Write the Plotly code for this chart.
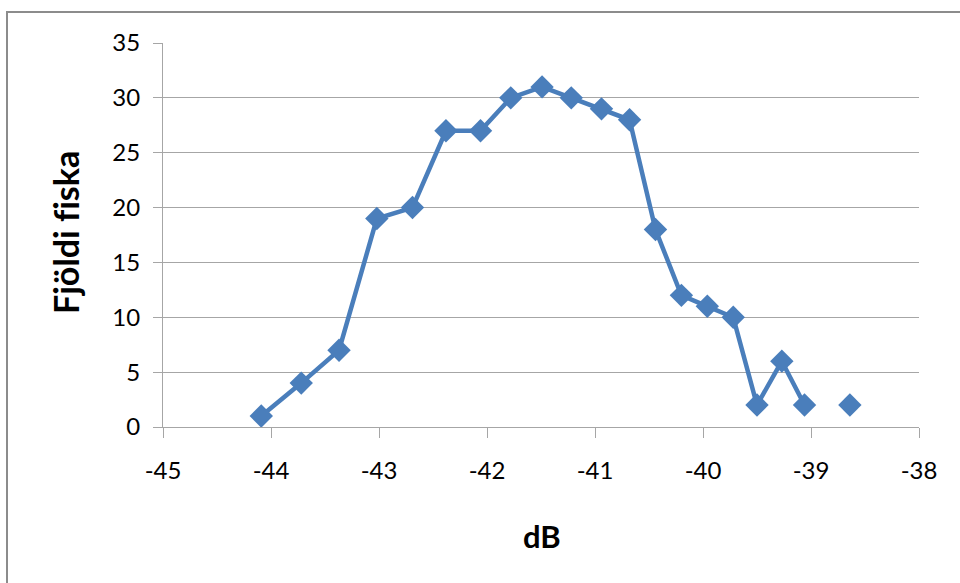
import plotly.graph_objects as go

# Measured echo strength (dB) and number of fish per bin
db_values = [-44.09, -43.72, -43.37, -43.02, -42.69, -42.38, -42.06, -41.78,
             -41.49, -41.22, -40.94, -40.68, -40.44, -40.20, -39.96, -39.72,
             -39.50, -39.27, -39.06, -38.85, -38.64]
fish_counts = [1, 4, 7, 19, 20, 27, 27, 30, 31, 30, 29, 28, 18, 12, 11, 10,
               2, 6, 2, None, 2]

x_ticks = [-45, -44, -43, -42, -41, -40, -39, -38]
y_ticks = [0, 5, 10, 15, 20, 25, 30, 35]

BLUE = "#4a7ebb"
GRID = "#a6a6a6"
FONT = "Lato, 'Open Sans', sans-serif"

fig = go.Figure()
fig.add_trace(go.Scatter(
    x=db_values, y=fish_counts, mode="lines+markers",
    connectgaps=False,
    line=dict(color=BLUE, width=4.5),
    marker=dict(symbol="diamond", size=18, color=BLUE),
    showlegend=False, cliponaxis=False,
))

W, H = 960, 583
L, R, T, B = 163, 41, 43, 156
pw, ph = W - L - R, H - T - B

fig.update_layout(
    width=W, height=H,
    margin=dict(l=L, r=R, t=T, b=B),
    paper_bgcolor="white", plot_bgcolor="white",
    font=dict(family=FONT, color="#000000"),
    xaxis=dict(
        range=[-45, -38], tickvals=x_ticks, ticktext=[str(v) for v in x_ticks],
        showgrid=False, zeroline=False,
        showline=True, linecolor=GRID, linewidth=1,
        ticks="outside", ticklen=10, tickcolor=GRID, tickwidth=1,
        tickfont=dict(size=24, family=FONT), ticklabelstandoff=12,
    ),
    yaxis=dict(
        range=[0, 35], tickvals=y_ticks, ticktext=[str(v) for v in y_ticks],
        showgrid=True, gridcolor=GRID, gridwidth=1, zeroline=False,
        showline=True, linecolor=GRID, linewidth=1,
        ticks="outside", ticklen=9, tickcolor=GRID, tickwidth=1,
        tickfont=dict(size=24, family=FONT), ticklabelstandoff=8,
    ),
    annotations=[
        dict(text="<b>dB</b>", xref="paper", yref="paper",
             x=(542 - L) / pw, y=-(536 - (T + ph)) / ph, xanchor="center", yanchor="middle",
             showarrow=False, font=dict(size=31, family=FONT)),
        dict(text="<b>Fjöldi f\u200ciska</b>", xref="paper", yref="paper",
             x=(65 - L) / pw, y=(T + ph - 233) / ph, xanchor="center", yanchor="middle",
             textangle=-90, showarrow=False, font=dict(size=34, family=FONT)),
    ],
    shapes=[
        # outer chart frame
        dict(type="rect", xref="paper", yref="paper",
             x0=(7 - L) / pw, x1=(W + 10 - L) / pw,
             y0=-(H + 10 - (T + ph)) / ph, y1=(T + ph - 12) / ph,
             line=dict(color="#8c8c8c", width=2), fillcolor="rgba(0,0,0,0)",
             layer="below"),
    ],
)

fig.write_html("out.html")
